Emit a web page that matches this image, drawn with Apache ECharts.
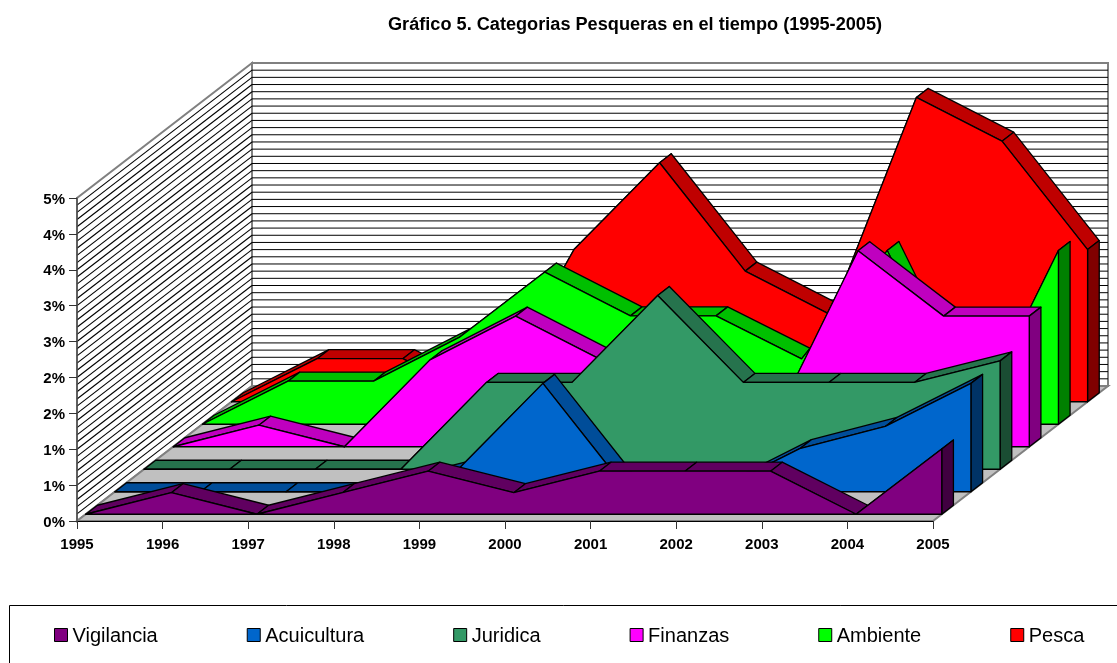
<!DOCTYPE html>
<html>
<head>
<meta charset="utf-8">
<style>html,body{margin:0;padding:0;background:#fff;overflow:hidden}#c{width:1117px;height:663px}</style>
<script src="https://cdn.jsdelivr.net/npm/echarts@6/dist/echarts.min.js"></script>
</head>
<body>
<div id="c"></div>
<script>
const years = ['1995','1996','1997','1998','1999','2000','2001','2002','2003','2004','2005'];
const yTickLabels = ['0%','1%','1%','2%','2%','3%','3%','4%','4%','5%'];
const seriesNames = ['Vigilancia','Acuicultura','Juridica','Finanzas','Ambiente','Pesca'];

const vigilancia  = [0, 0.30, 0, 0.30, 0.60, 0.30, 0.60, 0.60, 0.60, 0, 0.91];
const acuicultura = [0, 0, 0, 0, 0.30, 1.51, 0, 0, 0.60, 0.91, 1.51];
const juridica    = [0, 0, 0, 0, 1.21, 1.21, 2.42, 1.21, 1.21, 1.21, 1.51];
const finanzas    = [0, 0.30, 0, 1.21, 1.82, 1.21, 0.60, 0.30, 2.73, 1.82, 1.82];
const ambiente    = [0, 0.60, 0.60, 1.21, 2.12, 1.51, 1.51, 0.91, 2.42, 0, 2.42];
const pesca       = [0, 0.60, 0.60, 0, 2.12, 3.33, 1.82, 1.21, 4.24, 3.63, 2.12];
const allValues = [vigilancia, acuicultura, juridica, finanzas, ambiente, pesca];

const frontColors  = ['#800080','#0066CC','#339966','#FF00FF','#00FF00','#FF0000'];
const ribbonColors = ['#600060','#004D99','#26734D','#BF00BF','#00BF00','#BF0000'];
const sideColors   = ['#400040','#003366','#1A4D33','#800080','#008000','#800000'];

const DEPTH_X = 175, DEPTH_Y = 135;
const SLOT_X = DEPTH_X / 6, SLOT_Y = DEPTH_Y / 6;
const FONT = '"Liberation Sans", Arial, sans-serif';

function wallsRender(params, api) {
  const children = [];
  const xMax = years.length - 1;
  const o = api.coord([0, 0]), r = api.coord([xMax, 0]), t = api.coord([0, 4.5]);
  const push = (pts, fill) => children.push({
    type: 'polygon', shape: { points: pts },
    style: { fill: fill, stroke: '#808080', lineWidth: 2 }
  });
  // back wall, left wall, floor
  push([[o[0]+DEPTH_X,o[1]-DEPTH_Y],[r[0]+DEPTH_X,r[1]-DEPTH_Y],[r[0]+DEPTH_X,t[1]-DEPTH_Y],[o[0]+DEPTH_X,t[1]-DEPTH_Y]], '#fff');
  push([o,[o[0]+DEPTH_X,o[1]-DEPTH_Y],[o[0]+DEPTH_X,t[1]-DEPTH_Y],t], '#fff');
  for (let k = 1; k < 45; k++) {
    const y = api.coord([0, k / 10])[1];
    children.push({ type: 'line', shape: { x1: o[0]+DEPTH_X, y1: y-DEPTH_Y, x2: r[0]+DEPTH_X, y2: y-DEPTH_Y }, style: { stroke: '#000', lineWidth: 1 } });
    children.push({ type: 'line', shape: { x1: o[0], y1: y, x2: o[0]+DEPTH_X, y2: y-DEPTH_Y }, style: { stroke: '#000', lineWidth: 1.1 } });
  }
  children.push({ type: 'polygon', shape: { points: [o,r,[r[0]+DEPTH_X,r[1]-DEPTH_Y],[o[0]+DEPTH_X,o[1]-DEPTH_Y]] },
    style: { fill: '#C0C0C0', stroke: '#808080', lineWidth: 2 } });
  return { type: 'group', children: children };
}

function areaRender(s) {
  const vals = allValues[s];
  const ox = (s + 0.3) * SLOT_X, oy = (s + 0.3) * SLOT_Y;
  const rx = 0.4 * SLOT_X, ry = 0.4 * SLOT_Y;
  const edge = { stroke: '#000', lineWidth: 1.3, lineJoin: 'round' };
  return function (params, api) {
    const i = params.dataIndex, last = vals.length - 1;
    const pt = (k, v) => { const c = api.coord([k, v]); return [c[0] + ox, c[1] - oy]; };
    const back = p => [p[0] + rx, p[1] - ry];
    const children = [];
    if (i < last) {
      const a = pt(i, vals[i]), b = pt(i + 1, vals[i + 1]);
      children.push({ type: 'polygon', z2: 1, shape: { points: [a, b, back(b), back(a)] },
        style: Object.assign({ fill: ribbonColors[s] }, edge) });
    } else {
      const a = pt(i, 0), b = pt(i, vals[i]);
      children.push({ type: 'polygon', z2: 1, shape: { points: [a, b, back(b), back(a)] },
        style: Object.assign({ fill: sideColors[s] }, edge) });
      const pts = [pt(0, 0)];
      for (let k = 0; k <= last; k++) pts.push(pt(k, vals[k]));
      pts.push(pt(last, 0));
      children.push({ type: 'polygon', z2: 3, shape: { points: pts },
        style: Object.assign({ fill: frontColors[s] }, edge) });
    }
    return { type: 'group', children: children };
  };
}

const series = [{
  type: 'custom', name: 'paredes', z: 1, silent: true, clip: false,
  renderItem: wallsRender, data: [[years[0], 0]], encode: { x: 0, y: 1 }
}];
seriesNames.forEach((name, s) => {
  series.push({
    type: 'custom', name: name, z: 20 - s, silent: true, clip: false,
    itemStyle: { color: frontColors[s] },
    renderItem: areaRender(s),
    data: allValues[s].map((v, i) => [years[i], v]),
    encode: { x: 0, y: 1 }
  });
});

const chart = echarts.init(document.getElementById('c'), null, { renderer: 'canvas' });
chart.setOption({
  animation: false,
  backgroundColor: '#fff',
  title: {
    text: 'Gráfico 5. Categorias Pesqueras en el tiempo (1995-2005)',
    left: 388, top: 16, padding: 0,
    textStyle: { fontFamily: FONT, fontSize: 18.15, fontWeight: 'bold', color: '#000' }
  },
  grid: { left: 77, right: 184, top: 198, bottom: 142, containLabel: false },
  xAxis: {
    type: 'category', data: years, boundaryGap: false, z: 50,
    axisLine: { lineStyle: { color: '#000', width: 1 } },
    axisTick: { length: 8, alignWithLabel: true, lineStyle: { color: '#333' } },
    axisLabel: { interval: 0, color: '#000', fontFamily: FONT, fontSize: 15, fontWeight: 'bold', margin: 16 },
    splitLine: { show: false }
  },
  yAxis: {
    type: 'value', min: 0, max: 4.5, interval: 0.5, z: 50,
    axisLine: { show: true, lineStyle: { color: '#555', width: 1.5 } },
    axisTick: { show: true, length: 8, lineStyle: { color: '#333' } },
    axisLabel: { margin: 12,
      rich: { t: { color: '#000', fontFamily: FONT, fontSize: 15, fontWeight: 'bold', padding: [3, 0, 0, 0] } },
      formatter: v => '{t|' + yTickLabels[Math.round(v * 2)] + '}' },
    splitLine: { show: false }
  },
  legend: {
    left: 54, top: 626, padding: 0, itemGap: 89, itemWidth: 13, itemHeight: 13, width: 1100,
    icon: 'rect', selectedMode: false,
    itemStyle: { borderColor: '#000', borderWidth: 1 },
    formatter: '{t|{name}}',
    textStyle: { rich: { t: { fontFamily: FONT, fontSize: 20, color: '#000', padding: [2, 0, 0, 0] } } },
    data: seriesNames.map((n, s) => ({ name: n, itemStyle: { color: frontColors[s], borderColor: '#000', borderWidth: 1 } }))
  },
  graphic: [{
    type: 'rect', left: 9, top: 605, z: 0, silent: true,
    shape: { width: 1200, height: 100 },
    style: { fill: '#fff', stroke: '#000', lineWidth: 1 }
  }],
  series: series
});
</script>
</body>
</html>
